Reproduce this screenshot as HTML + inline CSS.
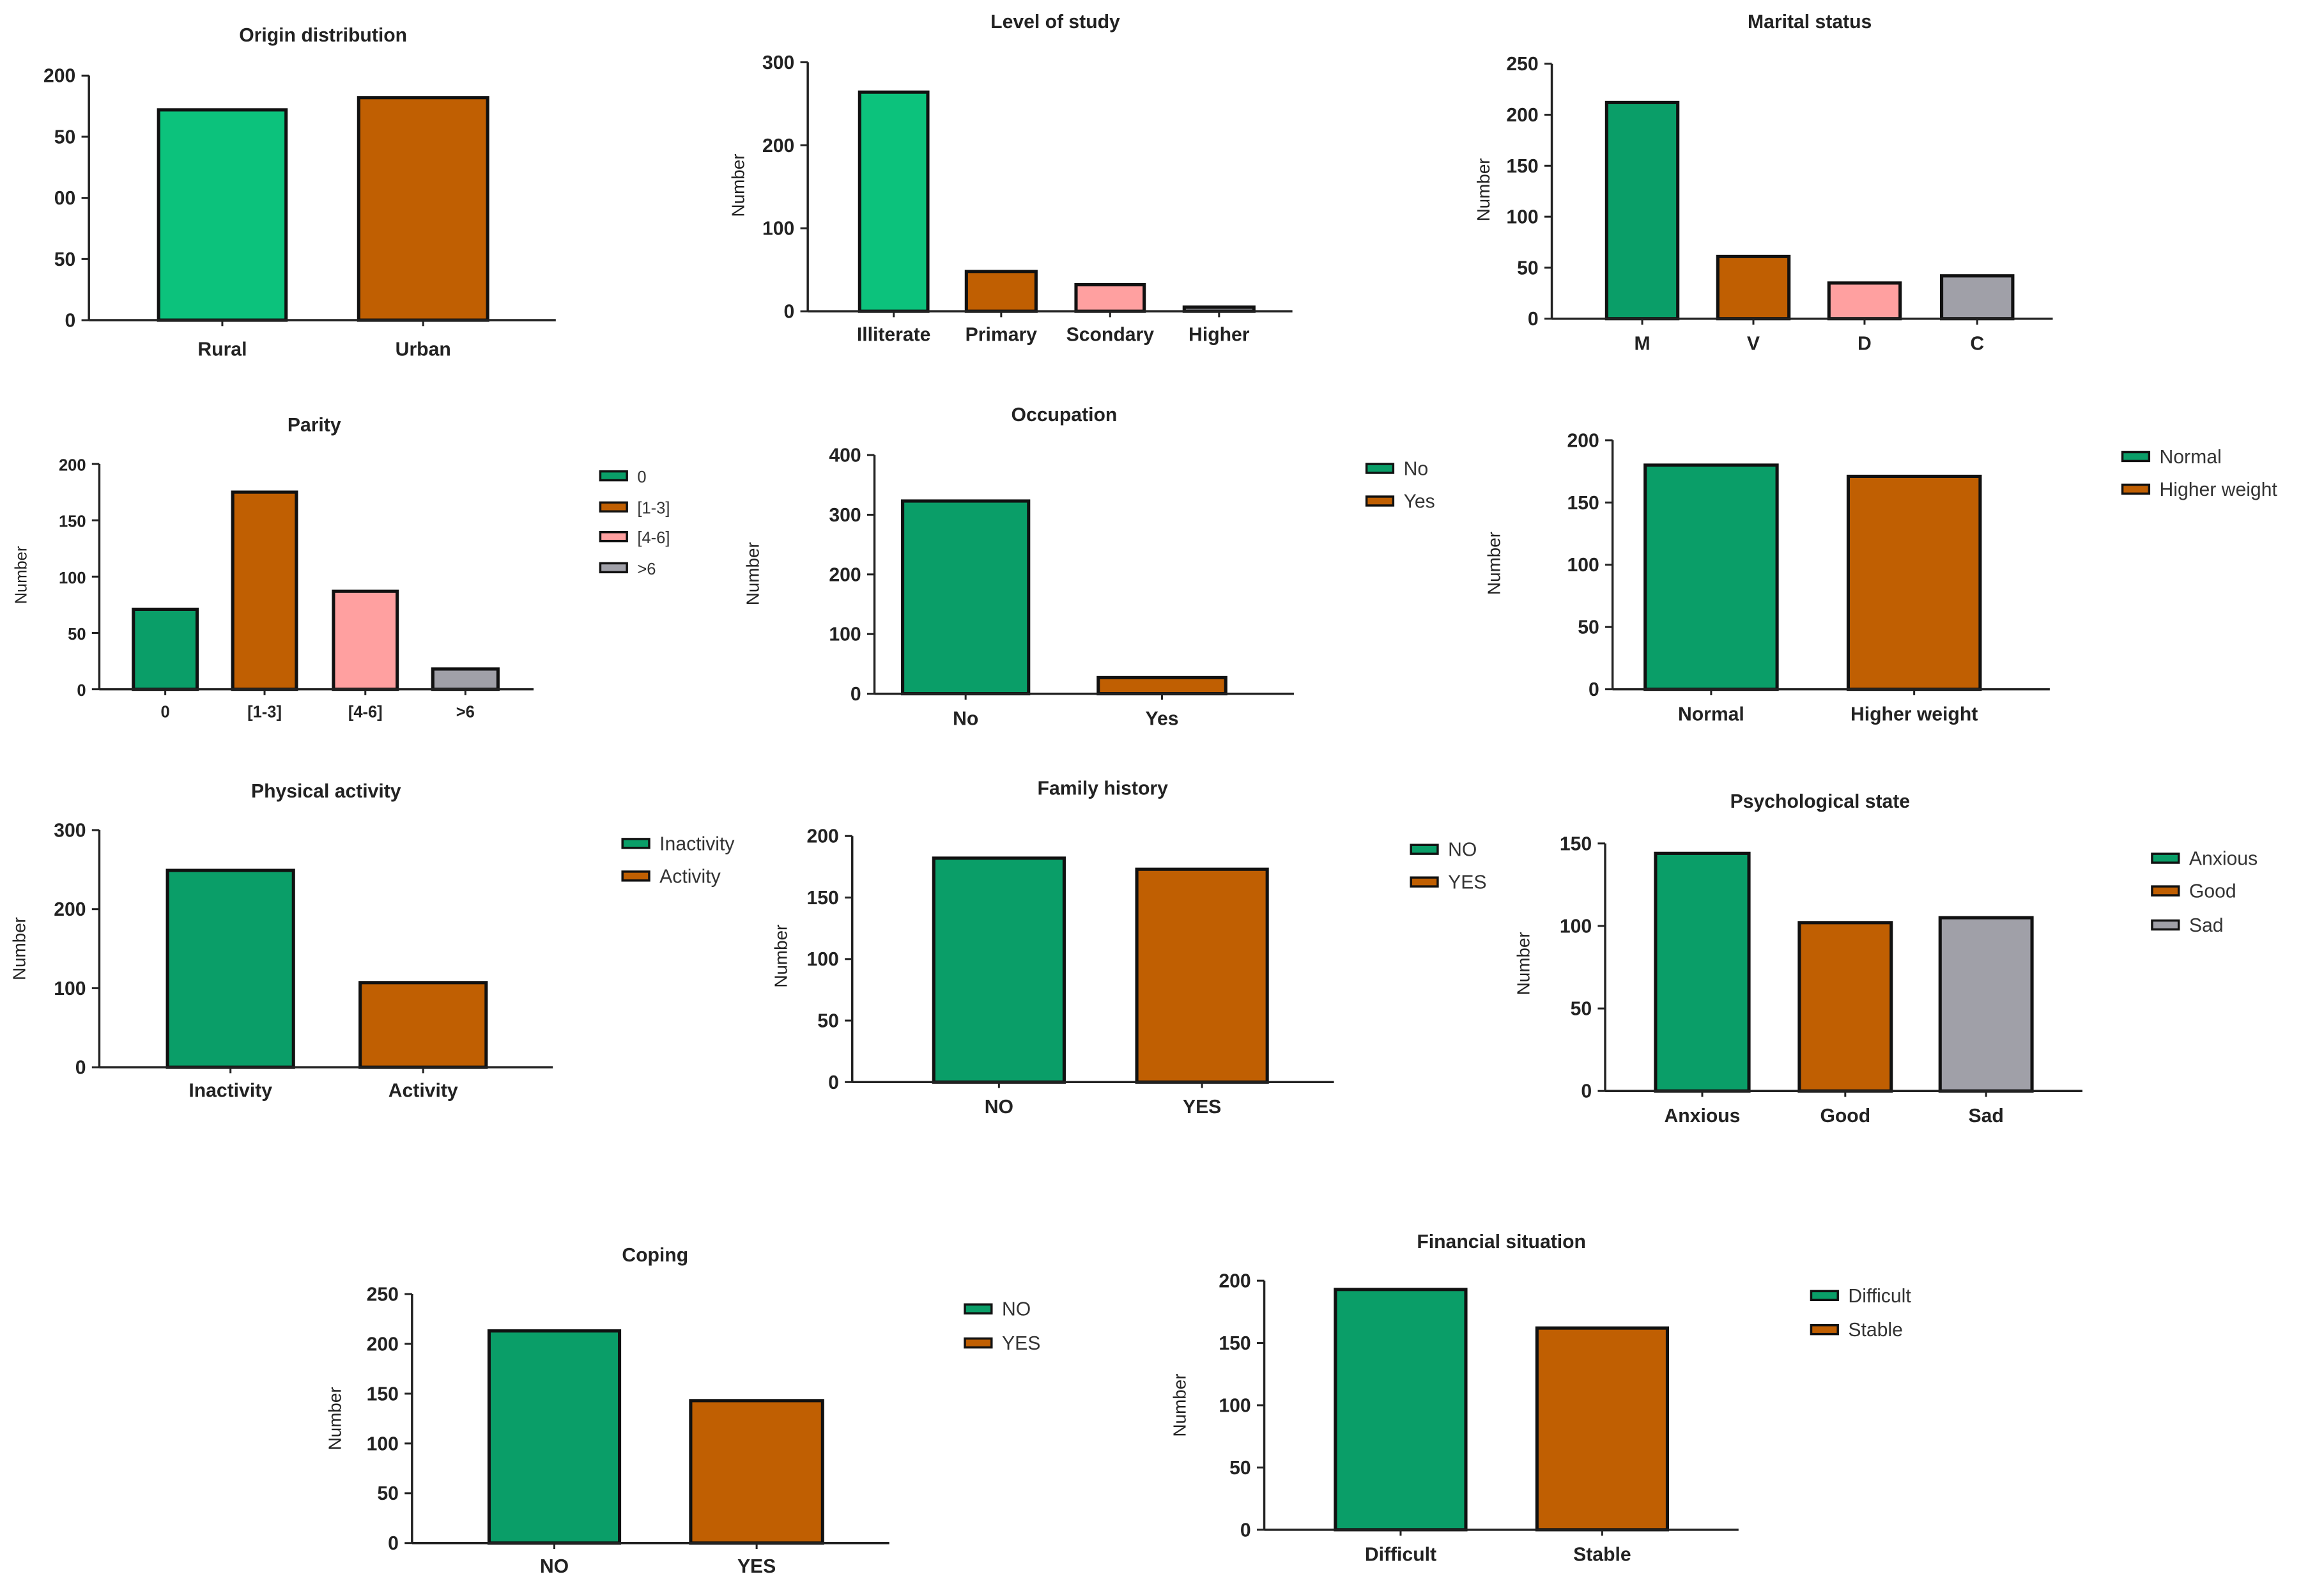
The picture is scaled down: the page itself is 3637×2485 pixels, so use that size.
<!DOCTYPE html>
<html><head><meta charset="utf-8">
<style>
html,body{margin:0;padding:0;background:#fff;}
svg{display:block;}
text{font-family:"Liberation Sans",Arial,sans-serif;}
</style></head>
<body>
<svg id="fig" width="3637" height="2485" viewBox="0 0 1568 1071.3" preserveAspectRatio="none" xmlns="http://www.w3.org/2000/svg"></svg>
<script>
// ---- data ----
const originCats=['Rural','Urban'];
const originVals=[172,182];
const originTicks=['0','50','00','50','200'];
const studyCats=['Illiterate','Primary','Scondary','Higher'];
const studyVals=[264,48,32,5];
const studyTicks=['0','100','200','300'];
const maritalCats=['M','V','D','C'];
const maritalVals=[212,61,35,42];
const maritalTicks=['0','50','100','150','200','250'];
const parityCats=['0','[1-3]','[4-6]','>6'];
const parityVals=[71,175,87,18];
const parityTicks=['0','50','100','150','200'];
const occCats=['No','Yes'];
const occVals=[323,27];
const occTicks=['0','100','200','300','400'];
const weightCats=['Normal','Higher weight'];
const weightVals=[180,171];
const weightTicks=['0','50','100','150','200'];
const physCats=['Inactivity','Activity'];
const physVals=[249,107];
const physTicks=['0','100','200','300'];
const famCats=['NO','YES'];
const famVals=[182,173];
const famTicks=['0','50','100','150','200'];
const psychCats=['Anxious','Good','Sad'];
const psychVals=[144,102,105];
const psychTicks=['0','50','100','150'];
const copCats=['NO','YES'];
const copVals=[213,143];
const copTicks=['0','50','100','150','200','250'];
const finCats=['Difficult','Stable'];
const finVals=[193,162];
const finTicks=['0','50','100','150','200'];

const G='#0a9e68',O='#c05f02',P='#ffa0a0',Y='#a0a0a8',B='#0cc27c';
const NS='http://www.w3.org/2000/svg';
const svg=document.getElementById('fig');
function mk(tag,attrs,parent){const e=document.createElementNS(NS,tag);for(const k in attrs)e.setAttribute(k,attrs[k]);(parent||svg).appendChild(e);return e;}

const charts=[
 {id:'origin',title:'Origin distribution',tx:218,ty:28,ax:60,ay0:216,ay1:51,max:200,ax1:375,bars:[[107,193],[242,329]],cats:originCats,vals:originVals,ticks:originTicks,step:50,colors:[B,O],ly:240,ytitle:null},
 {id:'study',title:'Level of study',tx:712,ty:19,ax:545,ay0:210,ay1:42,max:300,ax1:872,bars:[[580,626],[652,699],[726,772],[799,846]],cats:studyCats,vals:studyVals,ticks:studyTicks,step:100,colors:[B,O,P,Y],ly:230,ytitle:[502,125]},
 {id:'marital',title:'Marital status',tx:1221,ty:19,ax:1047,ay0:215,ay1:43,max:250,ax1:1385,bars:[[1084,1132],[1159,1207],[1234,1282],[1310,1358]],cats:maritalCats,vals:maritalVals,ticks:maritalTicks,step:50,colors:[G,O,P,Y],ly:236,ytitle:[1005,128]},
 {id:'parity',title:'Parity',tx:212,ty:291,ax:67,ay0:465,ay1:313,max:200,ax1:360,bars:[[90,133],[157,200],[225,268],[292,336]],cats:parityCats,vals:parityVals,ticks:parityTicks,step:50,colors:[G,O,P,Y],ly:484,ytitle:[18,388],legend:[405,[321,342,362,383]],small:true},
 {id:'occupation',title:'Occupation',tx:718,ty:284,ax:590,ay0:468,ay1:307,max:400,ax1:873,bars:[[609,694],[741,827]],cats:occCats,vals:occVals,ticks:occTicks,step:100,colors:[G,O],ly:489,ytitle:[512,387],legend:[922,[316,338]]},
 {id:'weight',title:'',tx:0,ty:0,ax:1088,ay0:465,ay1:297,max:200,ax1:1383,bars:[[1110,1199],[1247,1336]],cats:weightCats,vals:weightVals,ticks:weightTicks,step:50,colors:[G,O],ly:486,ytitle:[1012,380],legend:[1432,[308,330]]},
 {id:'physical',title:'Physical activity',tx:220,ty:538,ax:67,ay0:720,ay1:560,max:300,ax1:373,bars:[[113,198],[243,328]],cats:physCats,vals:physVals,ticks:physTicks,step:100,colors:[G,O],ly:740,ytitle:[17,640],legend:[420,[569,591]]},
 {id:'family',title:'Family history',tx:744,ty:536,ax:575,ay0:730,ay1:564,max:200,ax1:900,bars:[[630,718],[767,855]],cats:famCats,vals:famVals,ticks:famTicks,step:50,colors:[G,O],ly:751,ytitle:[531,645],legend:[952,[573,595]]},
 {id:'psych',title:'Psychological state',tx:1228,ty:545,ax:1083,ay0:736,ay1:569,max:150,ax1:1405,bars:[[1117,1180],[1214,1276],[1309,1371]],cats:psychCats,vals:psychVals,ticks:psychTicks,step:50,colors:[G,O,Y],ly:757,ytitle:[1032,650],legend:[1452,[579,601,624]]},
 {id:'coping',title:'Coping',tx:442,ty:851,ax:278,ay0:1041,ay1:873,max:250,ax1:600,bars:[[330,418],[466,555]],cats:copCats,vals:copVals,ticks:copTicks,step:50,colors:[G,O],ly:1061,ytitle:[230,957],legend:[651,[883,906]]},
 {id:'financial',title:'Financial situation',tx:1013,ty:842,ax:853,ay0:1032,ay1:864,max:200,ax1:1173,bars:[[901,989],[1037,1125]],cats:finCats,vals:finVals,ticks:finTicks,step:50,colors:[G,O],ly:1053,ytitle:[800,948],legend:[1222,[874,897]]}
];

charts.forEach(c=>{
  const g=mk('g',{});
  
  
  const yS=v=>c.ay0-(v/c.max)*(c.ay0-c.ay1);
  if(c.title){
    const t=mk('text',{x:c.tx,y:c.ty,'text-anchor':'middle','font-size':13,'font-weight':'bold',fill:'#222'},g);
    t.textContent=c.title;
    
    
  }
  if(c.ytitle){
    const t=mk('text',{x:c.ytitle[0],y:c.ytitle[1],'text-anchor':'middle','font-size':c.small?11:12,fill:'#222',transform:'rotate(-90 '+c.ytitle[0]+' '+c.ytitle[1]+')'},g);
    t.textContent='Number';
    
    
  }
  // bars
  c.vals.forEach((v,i)=>{
    const [x0,x1]=c.bars[i];
    const r=mk('rect',{x:x0,y:yS(v),width:x1-x0,height:c.ay0-yS(v),fill:c.colors[i],stroke:'#111','stroke-width':2.2},g);
    
    
    const lb=mk('text',{x:(x0+x1)/2,y:c.ly,'text-anchor':'middle','font-size':c.small?11:13,'font-weight':'bold',fill:'#222'},g);
    lb.textContent=c.cats[i];
    
    
    mk('line',{x1:(x0+x1)/2,x2:(x0+x1)/2,y1:c.ay0,y2:c.ay0+4,stroke:'#222','stroke-width':1.3},g);
  });
  // axes
  const ya=mk('line',{x1:c.ax,x2:c.ax,y1:c.ay1,y2:c.ay0,stroke:'#222','stroke-width':1.5},g);
  
  
  const xa=mk('line',{x1:c.ax,x2:c.ax1,y1:c.ay0,y2:c.ay0,stroke:'#222','stroke-width':1.5},g);
  
  
  c.ticks.forEach((tk,i)=>{
    const y=yS(i*c.step);
    mk('line',{x1:c.ax-5,x2:c.ax,y1:y,y2:y,stroke:'#222','stroke-width':1.3},g);
    const t=mk('text',{x:c.ax-9,y:y+4.5,'text-anchor':'end','font-size':c.small?11:13,'font-weight':'bold',fill:'#222'},g);
    t.textContent=tk;
    
    
  });
  if(c.legend){
    c.cats.forEach((cat,i)=>{
      const lx=c.legend[0],ly=c.legend[1][i];
      const s=mk('rect',{x:lx,y:ly-3,width:18,height:6,fill:c.colors[i],stroke:'#111','stroke-width':1.5},g);
      
      
      const t=mk('text',{x:lx+25,y:ly+4.5,'font-size':c.small?11:13,fill:'#333'},g);
      t.textContent=cat;
      
      
    });
  }
});
</script>
</body></html>
